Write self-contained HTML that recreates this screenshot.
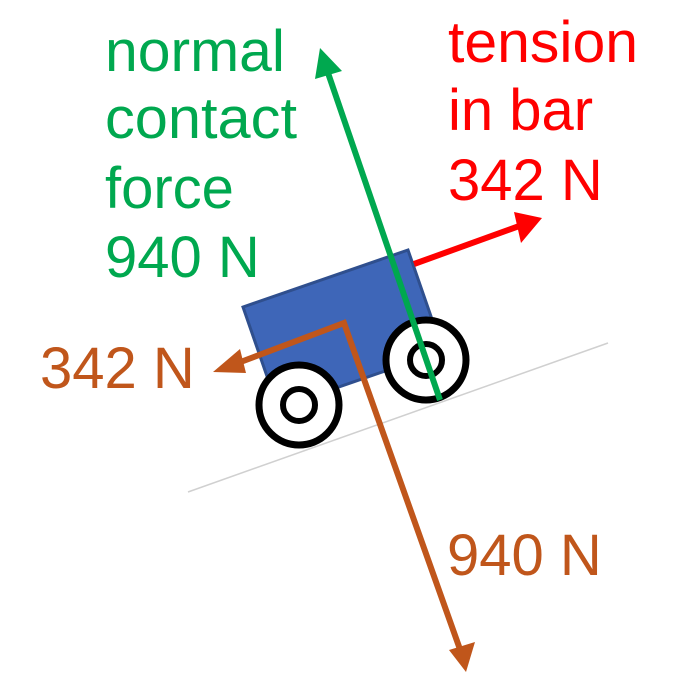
<!DOCTYPE html>
<html><head><style>
html,body{margin:0;padding:0;background:#fff;}
svg{display:block}
text{font-family:"Liberation Sans",Arial,sans-serif;font-size:58px;}
</style></head><body>
<svg width="673" height="688" viewBox="0 0 673 688">
<line x1="188" y1="492" x2="608" y2="343" stroke="#d0d0d0" stroke-width="1.5"/>
<polygon points="243,307 408,250 443,351 278,408" fill="#3e66b8" stroke="#2f4f8e" stroke-width="3"/>
<circle cx="299" cy="405" r="40" fill="#fff" stroke="#000" stroke-width="7"/>
<circle cx="299" cy="405" r="16" fill="#fff" stroke="#000" stroke-width="6"/>
<circle cx="426" cy="360" r="40" fill="#fff" stroke="#000" stroke-width="7"/>
<circle cx="426" cy="360" r="16" fill="#fff" stroke="#000" stroke-width="6"/>
<!-- red -->
<line x1="414" y1="264" x2="522" y2="225" stroke="#ff0000" stroke-width="6"/>
<polygon points="542,218 514,212 521,243" fill="#ff0000"/>
<!-- green -->
<line x1="440" y1="400" x2="327" y2="70" stroke="#00a84f" stroke-width="6"/>
<polygon points="320,48 315,79 342,71" fill="#00a84f"/>
<!-- orange -->
<polyline points="230,366 344,323 462,655" fill="none" stroke="#c0561b" stroke-width="6"/>
<polygon points="213,372 240,349 246,373" fill="#c0561b"/>
<polygon points="466,672 449,650 475,642" fill="#c0561b"/>
<g fill="#00a84f">
<text x="105" y="71" textLength="180" lengthAdjust="spacingAndGlyphs">normal</text>
<text x="105" y="138" textLength="192" lengthAdjust="spacingAndGlyphs">contact</text>
<text x="105" y="208">force</text>
<text x="105" y="277">940 N</text>
</g>
<g fill="#ff0000">
<text x="448" y="62" textLength="190" lengthAdjust="spacingAndGlyphs">tension</text>
<text x="448" y="130">in bar</text>
<text x="448" y="200">342 N</text>
</g>
<text x="40" y="388" fill="#c0561b">342 N</text>
<text x="447" y="575" fill="#c0561b">940 N</text>
</svg>
</body></html>
